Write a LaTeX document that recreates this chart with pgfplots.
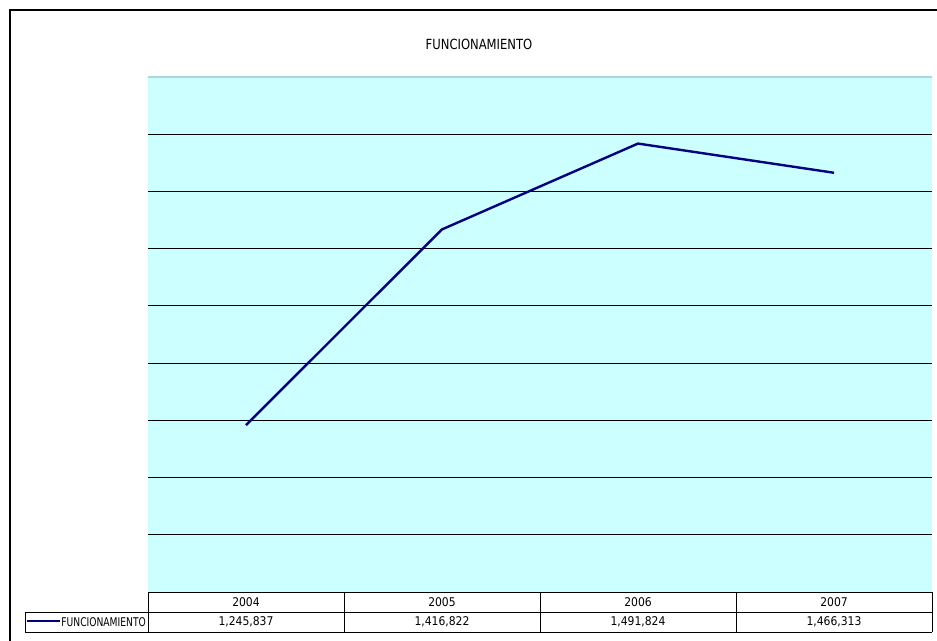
\documentclass[border=0pt]{standalone}
\usepackage{graphicx}
\usepackage{pgfplots}
\pgfplotsset{compat=1.18}
\usepackage{fontspec}
\setmainfont{DejaVu Sans Condensed}
\definecolor{bgcyan}{HTML}{CCFFFF}
\definecolor{topteal}{HTML}{A8D8D8}
\definecolor{navy}{HTML}{000080}
\begin{document}
\begin{tikzpicture}[x=0.5pt,y=0.5pt]
\useasboundingbox (0,0) rectangle (937,641);
% outer frame (top and left visible)
\draw[black,line width=1.1pt] (10,-5) -- (10,631) -- (945,631);
% title
\node[font=\fontsize{7}{8}\selectfont] at (479,597) {\scalebox{0.92}[1]{FUNCIONAMIENTO}};
\begin{axis}[
  at={(148*0.5pt,49*0.5pt)}, anchor=south west,
  width=392pt, height=257.5pt, scale only axis,
  xmin=-0.5, xmax=3.5,
  ymin=1100000, ymax=1550000,
  scaled y ticks=false,
  xtick=\empty,
  ytick={1150000,1200000,1250000,1300000,1350000,1400000,1450000,1500000},
  yticklabels={},
  major tick length=0pt,
  ymajorgrids,
  grid style={black,line width=0.5pt},
  axis line style={draw=none},
  axis background/.style={fill=bgcyan},
  clip=false,
]
\addplot[navy,line width=1.2pt,mark=none] coordinates {
 (0,1245837) (1,1416822) (2,1491824) (3,1466313)
};
\end{axis}
% top edge of plot area
\draw[topteal,line width=1pt] (148,564) -- (932,564);
% data table
\begin{scope}[line width=0.45pt,black]
\draw (148,49) -- (932,49);
\draw (25,29) -- (932,29);
\draw (25,9) -- (932,9);
\foreach \xx in {148,344,540,736,932} \draw (\xx,49) -- (\xx,9);
\draw (25,29) -- (25,9);
\end{scope}
\begin{scope}[font=\fontsize{6}{7}\selectfont]
\node at (246,39) {2004};
\node at (442,39) {2005};
\node at (638,39) {2006};
\node at (834,39) {2007};
\node at (246,19) {1,245,837};
\node at (442,19) {1,416,822};
\node at (638,19) {1,491,824};
\node at (834,19) {1,466,313};
\draw[navy,line width=1.2pt] (27,20) -- (60,20);
\node[anchor=west,inner sep=0pt] at (61,19) {\scalebox{0.85}[1]{FUNCIONAMIENTO}};
\end{scope}
\end{tikzpicture}
\end{document}
